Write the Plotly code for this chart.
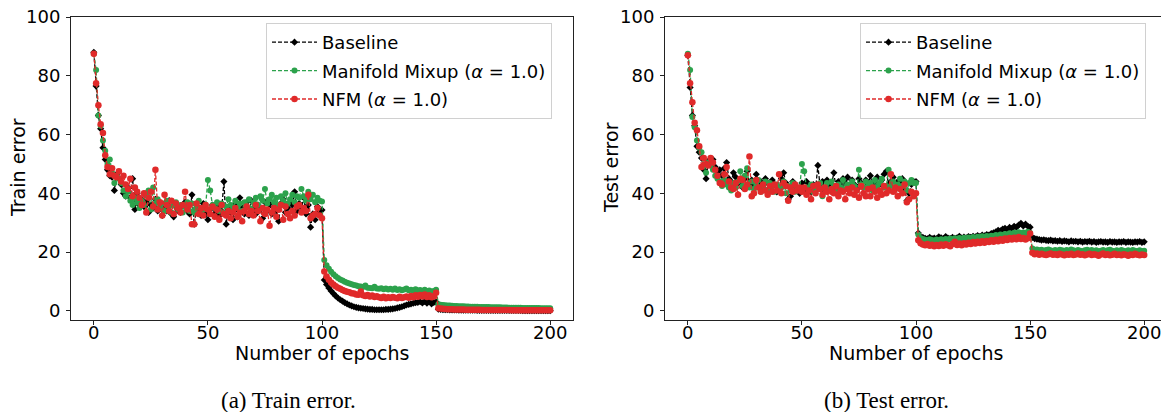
import plotly.graph_objects as go

# ---------------- data ----------------
epochs = list(range(201))

train_baseline_p1 = [
    88.0, 76.5, 66.5, 62.0, 55.5, 51.5, 48.0, 46.0, 45.5, 41.0,
    46.5, 45.0, 43.0, 40.0, 39.0, 42.0, 38.5, 45.0, 34.5, 40.0,
    36.0, 38.0, 35.5, 37.0, 33.5, 36.0, 35.0, 38.0, 34.0, 36.5,
    32.5, 35.0, 34.0, 37.5, 33.0, 32.0, 35.5, 34.0, 33.5, 36.0,
    37.0, 34.0, 33.0, 39.5, 29.5, 34.5, 35.0, 32.5, 36.5, 33.0,
    31.0, 34.5, 36.0, 33.0, 35.5, 32.5, 34.0, 44.0, 29.5, 35.0,
    33.5, 31.0, 36.5, 32.0, 38.5, 35.0, 33.0, 37.0, 32.5, 37.5,
    35.0, 33.0, 36.0, 34.5, 31.5, 37.0, 34.0, 36.5, 33.0, 35.5,
    34.0, 30.5, 36.5, 38.0, 33.5, 35.0, 37.0, 36.0, 40.5, 34.0,
    36.5, 35.0, 38.5, 33.0, 36.0, 28.5, 33.0, 31.0, 35.5, 34.0,
    34.3]
train_baseline_p2 = [
    10.5, 9.0, 7.8, 6.8, 5.9, 5.1, 4.4, 3.8, 3.3, 2.8,
    2.4, 2.0, 1.7, 1.4, 1.2, 1.0, 0.9, 0.8, 0.7, 0.6,
    0.5, 0.5, 0.4, 0.4, 0.4, 0.4, 0.4, 0.5, 0.5, 0.6,
    0.7, 0.8, 1.0, 1.2, 1.4, 1.7, 2.0, 2.2, 2.4, 2.6,
    2.8, 2.9, 3.1, 2.7, 3.2, 2.6, 3.3, 2.4, 2.9, 3.0]
train_baseline_p3 = [
    0.6, 0.5, 0.45, 0.4, 0.38, 0.35, 0.33, 0.3, 0.3, 0.28,
    0.27, 0.25, 0.25, 0.24, 0.22, 0.22, 0.21, 0.2, 0.2, 0.19,
    0.18, 0.18, 0.17, 0.17, 0.16, 0.16, 0.15, 0.15, 0.15, 0.14,
    0.14, 0.13, 0.13, 0.13, 0.12, 0.12, 0.12, 0.11, 0.11, 0.11,
    0.1, 0.1, 0.1, 0.1, 0.09, 0.09, 0.09, 0.09, 0.08, 0.08]

train_mixup_p1 = [
    87.5, 82.0, 66.5, 63.0, 58.0, 54.5, 50.0, 51.5, 47.0, 43.5,
    46.0, 45.0, 43.5, 41.0, 39.0, 40.5, 37.5, 36.0, 38.5, 37.0,
    35.0, 37.5, 36.0, 40.0, 41.0, 34.5, 42.0, 36.5, 38.0, 35.0,
    36.5, 34.0, 37.5, 35.5, 33.5, 36.0, 37.0, 34.5, 36.0, 33.5,
    35.5, 37.0, 34.0, 36.5, 33.5, 35.0, 37.5, 33.0, 34.5, 36.0,
    44.5, 41.0, 36.0, 35.0, 37.0, 34.0, 36.5, 33.5, 35.5, 38.0,
    36.0, 34.5, 37.5, 35.0, 36.5, 34.0, 37.0, 35.5, 38.0, 34.5,
    37.0, 38.5, 36.0, 39.0, 37.5, 41.5, 36.5, 38.0, 39.5, 37.0,
    38.5, 36.0, 39.0, 37.5, 40.0, 36.5, 38.0, 39.5, 37.0, 39.0,
    38.5, 41.5, 39.0, 37.5, 40.5, 38.0, 39.5, 37.0, 38.5, 37.5,
    37.2]
train_mixup_p2 = [
    17.3, 15.5, 14.3, 13.3, 12.5, 11.8, 11.2, 10.7, 10.3, 9.9,
    9.6, 9.3, 9.1, 8.8, 8.6, 8.4, 8.3, 8.1, 8.6, 7.9,
    7.8, 7.7, 8.2, 7.6, 7.5, 7.7, 7.4, 7.6, 7.3, 7.5,
    7.2, 7.6, 7.1, 7.4, 7.0, 7.3, 7.6, 7.0, 7.2, 6.9,
    7.4, 6.9, 7.1, 6.8, 7.2, 6.7, 6.9, 6.6, 6.8, 7.2]
train_mixup_p3 = [
    2.3, 2.1, 2.0, 1.9, 1.85, 1.8, 1.75, 1.7, 1.65, 1.6,
    1.6, 1.55, 1.5, 1.5, 1.45, 1.45, 1.4, 1.4, 1.35, 1.35,
    1.3, 1.3, 1.3, 1.25, 1.25, 1.2, 1.2, 1.2, 1.15, 1.15,
    1.15, 1.1, 1.1, 1.1, 1.05, 1.05, 1.05, 1.0, 1.0, 1.0,
    1.0, 0.95, 0.95, 0.95, 0.95, 0.9, 0.9, 0.9, 0.9, 0.9]

train_nfm_p1 = [
    87.5, 77.5, 70.0, 63.5, 60.5, 53.0, 49.0, 46.5, 48.5, 46.0,
    45.5, 47.5, 44.0, 46.0, 43.0, 41.5, 45.0, 39.0, 42.0, 40.5,
    38.5, 36.0, 40.0, 33.5, 38.5, 40.5, 35.5, 48.0, 34.5, 37.0,
    32.5, 39.5, 36.0, 34.0, 37.5, 33.0, 36.5, 35.0, 33.5, 36.0,
    40.5, 34.5, 36.0, 29.5, 29.5, 36.5, 33.0, 35.0, 32.5, 36.0,
    34.5, 33.0, 35.5, 32.0, 34.5, 31.0, 36.0, 33.0, 32.5, 34.0,
    31.5, 33.5, 35.0, 32.0, 33.5, 30.5, 34.0, 35.5, 33.0, 34.0,
    32.5, 36.0, 34.0, 30.5, 35.0, 33.0, 34.5, 29.0, 33.5, 35.0,
    32.0, 34.5, 36.0, 31.0, 35.5, 33.0, 31.5, 34.0, 32.5, 35.5,
    36.0, 33.5, 35.0, 34.0, 39.5, 31.5, 32.5, 33.0, 35.0, 32.5,
    31.5]
train_nfm_p2 = [
    13.4, 11.7, 10.6, 9.7, 9.0, 8.4, 7.9, 7.5, 7.1, 6.8,
    6.5, 6.3, 6.0, 5.9, 5.6, 5.5, 6.6, 5.3, 5.1, 5.4,
    4.9, 5.2, 4.7, 5.0, 4.6, 4.4, 4.8, 4.3, 4.6, 4.4,
    4.7, 4.5, 4.3, 4.8, 4.4, 4.6, 4.9, 4.5, 5.1, 4.6,
    5.3, 4.8, 5.4, 4.9, 5.6, 4.7, 5.3, 4.6, 5.0, 6.2]
train_nfm_p3 = [
    0.9, 0.8, 0.7, 0.65, 0.6, 0.55, 0.55, 0.5, 0.5, 0.45,
    0.45, 0.45, 0.4, 0.4, 0.4, 0.38, 0.37, 0.36, 0.35, 0.34,
    0.33, 0.33, 0.32, 0.31, 0.3, 0.3, 0.29, 0.29, 0.28, 0.28,
    0.27, 0.27, 0.26, 0.26, 0.25, 0.25, 0.25, 0.24, 0.24, 0.24,
    0.23, 0.23, 0.23, 0.22, 0.22, 0.22, 0.21, 0.21, 0.21, 0.2]

test_baseline_p1 = [
    87.0, 76.0, 66.5, 63.0, 56.0, 54.0, 52.0, 48.0, 45.0, 51.0,
    50.5, 51.5, 49.0, 47.5, 48.0, 46.0, 48.5, 50.5, 45.0, 44.0,
    47.0, 45.5, 43.5, 44.0, 42.0, 45.0, 47.5, 43.0, 44.5, 42.5,
    46.5, 43.0, 44.0, 41.5, 45.0, 43.5, 42.0, 44.5, 43.0, 40.5,
    42.0, 45.0, 47.0, 43.5, 38.0, 39.0, 44.0, 42.5, 41.0, 40.0,
    43.5, 41.0, 44.0, 42.5, 40.5, 43.0, 41.5, 49.5, 42.0, 44.0,
    41.0, 44.5, 42.0, 43.0, 47.0, 41.5, 44.0, 42.5, 45.0, 43.5,
    45.5, 42.0, 44.5, 43.0, 41.5, 45.0, 43.5, 42.0, 44.5, 43.0,
    46.0, 42.5, 44.0, 45.5, 43.0, 44.5, 46.5, 47.5, 43.0, 44.0,
    45.5, 42.0, 44.0, 43.5, 45.0, 41.0, 37.5, 40.0, 43.0, 44.0,
    44.0]
test_baseline_p2 = [
    26.5, 25.2, 25.0, 24.7, 24.5, 25.0, 24.6, 24.8, 24.5, 25.2,
    24.9, 24.6, 25.3, 24.8, 24.6, 25.0, 24.7, 24.9, 25.4, 24.8,
    25.1, 24.9, 25.3, 25.0, 25.4, 25.2, 25.6, 25.3, 25.8, 25.5,
    26.0, 25.8, 26.3, 26.6, 26.9, 27.4, 27.2, 27.8, 28.1, 27.7,
    28.4, 28.0, 28.8, 28.5, 29.2, 29.8, 28.9, 29.5, 28.8, 28.5]
test_baseline_p3 = [
    25.0, 24.6, 24.4, 24.3, 24.1, 24.2, 24.0, 23.9, 24.1, 23.8,
    23.9, 23.7, 23.9, 23.6, 23.8, 23.7, 23.5, 23.8, 23.6, 23.7,
    23.5, 23.7, 23.4, 23.6, 23.5, 23.7, 23.4, 23.6, 23.3, 23.5,
    23.6, 23.4, 23.5, 23.3, 23.6, 23.4, 23.5, 23.3, 23.5, 23.4,
    23.6, 23.3, 23.5, 23.4, 23.3, 23.5, 23.4, 23.6, 23.3, 23.5]

test_mixup_p1 = [
    87.5, 82.0, 66.0, 62.5, 58.0, 55.5, 54.0, 49.5, 47.0, 50.5,
    49.5, 48.0, 46.0, 45.0, 44.0, 42.5, 44.5, 43.0, 42.0, 41.0,
    43.5, 42.0, 44.0, 47.5, 42.5, 46.0, 48.5, 42.0, 44.0, 41.5,
    43.0, 44.5, 40.5, 42.0, 44.0, 41.0, 43.5, 42.5, 40.5, 43.0,
    41.5, 42.0, 44.0, 40.0, 42.5, 41.0, 43.5, 40.5, 42.0, 41.5,
    50.0, 47.5, 42.0, 41.0, 43.0, 40.5, 42.5, 41.5, 43.5, 39.0,
    42.0, 43.5, 41.0, 44.0, 42.5, 40.5, 43.0, 42.0, 44.5, 41.5,
    43.0, 41.5, 44.0, 42.5, 41.0, 48.0, 43.0, 42.0, 44.0, 42.5,
    43.5, 41.0, 44.5, 42.0, 43.5, 45.0, 42.0, 42.5, 48.0, 42.5,
    44.0, 41.5, 43.0, 45.0, 42.5, 44.0, 41.0, 43.5, 44.5, 43.5,
    43.5]
test_mixup_p2 = [
    26.0, 24.8, 24.5, 24.2, 24.0, 24.4, 24.1, 23.9, 24.3, 24.0,
    24.4, 24.1, 24.5, 24.2, 24.6, 24.3, 24.7, 24.4, 24.8, 24.5,
    24.9, 24.6, 25.0, 24.7, 25.1, 24.8, 25.2, 25.0, 25.4, 25.1,
    25.5, 25.2, 25.6, 25.4, 25.8, 25.5, 26.0, 25.7, 26.2, 25.9,
    26.4, 26.1, 26.6, 26.2, 26.8, 26.4, 26.7, 26.3, 26.9, 26.5]
test_mixup_p3 = [
    21.2, 20.8, 20.9, 20.6, 20.8, 20.5, 20.7, 20.9, 20.6, 20.4,
    20.7, 20.5, 20.8, 20.6, 20.3, 20.7, 20.5, 20.9, 20.6, 20.4,
    20.7, 20.5, 20.3, 20.6, 20.8, 20.5, 20.7, 20.4, 20.6, 20.3,
    20.5, 20.7, 20.4, 20.6, 20.8, 20.5, 20.3, 20.6, 20.4, 20.7,
    20.5, 20.3, 20.6, 20.4, 20.7, 20.5, 20.3, 20.6, 20.4, 20.5]

test_nfm_p1 = [
    87.0, 77.5, 71.0, 64.0, 61.5, 56.0, 49.0, 52.0, 50.0, 49.5,
    52.0, 50.5, 48.0, 46.0, 43.5, 43.0, 46.5, 49.0, 44.0, 42.0,
    41.5, 43.5, 39.5, 45.0, 44.5, 41.5, 43.0, 52.5, 39.0, 40.0,
    44.5, 42.0, 40.5, 43.0, 41.0, 39.5, 42.5, 40.5, 43.0, 41.0,
    46.5, 40.0, 43.5, 42.5, 37.5, 42.0, 40.5, 43.0, 41.0, 42.0,
    40.5, 42.0, 39.5, 41.0, 38.0, 42.5, 40.0, 43.0, 41.5, 39.5,
    42.0, 40.5, 38.0, 41.5, 40.0, 42.5, 39.0, 41.0, 40.5, 38.0,
    41.5, 40.0, 42.0, 39.5, 41.0, 38.5, 42.5, 40.0, 39.0, 41.5,
    39.0, 42.0, 40.5, 38.5, 41.0, 39.5, 42.5, 40.0, 41.0, 46.5,
    40.5, 42.0, 39.0, 41.5, 40.0, 43.0, 37.0, 38.0, 40.5, 39.0,
    40.0]
test_nfm_p2 = [
    24.0, 23.0, 22.6, 22.3, 22.8, 22.2, 22.5, 22.0, 22.4, 22.1,
    22.6, 22.2, 22.7, 22.3, 22.0, 22.8, 23.5, 22.4, 22.9, 22.3,
    23.0, 22.6, 23.2, 22.8, 23.4, 22.9, 23.5, 23.1, 23.7, 23.2,
    23.8, 23.4, 24.0, 23.5, 24.2, 23.7, 24.4, 23.9, 24.6, 24.1,
    24.8, 24.3, 24.9, 24.4, 25.1, 24.5, 24.8, 24.3, 24.7, 26.3]
test_nfm_p3 = [
    19.8, 19.3, 19.5, 19.1, 19.4, 19.2, 19.0, 19.3, 19.5, 19.1,
    19.3, 19.0, 19.4, 19.2, 18.9, 19.3, 19.1, 19.4, 19.0, 19.2,
    19.5, 19.1, 19.3, 18.9, 19.2, 19.4, 19.0, 19.3, 19.1, 18.8,
    19.2, 19.5, 19.0, 19.3, 18.9, 19.1, 19.4, 19.0, 19.2, 18.9,
    19.3, 19.1, 18.8, 19.2, 19.0, 19.4, 19.1, 18.9, 19.2, 19.0]

series_names = ["Baseline", "Manifold Mixup (<i>α</i> = 1.0)", "NFM (<i>α</i> = 1.0)"]
x_ticks = [0, 50, 100, 150, 200]
y_ticks = [0, 20, 40, 60, 80, 100]

train_series = [
    train_baseline_p1 + train_baseline_p2 + train_baseline_p3,
    train_mixup_p1 + train_mixup_p2 + train_mixup_p3,
    train_nfm_p1 + train_nfm_p2 + train_nfm_p3,
]
test_series = [
    test_baseline_p1 + test_baseline_p2 + test_baseline_p3,
    test_mixup_p1 + test_mixup_p2 + test_mixup_p3,
    test_nfm_p1 + test_nfm_p2 + test_nfm_p3,
]

# ---------------- styling ----------------
W, H = 1169, 412
OFF = 8  # page body margin offset
colors = ["#000000", "#2ca24c", "#e02a2a"]
symbols = ["diamond", "circle", "circle"]
msizes = [5.5, 6, 6.5]
FONT = "DejaVu Sans"

fig = go.Figure()
for panel, (series, xa, ya, leg) in enumerate([
        (train_series, "x", "y", "legend"),
        (test_series, "x2", "y2", "legend2")]):
    for i, vals in enumerate(series):
        fig.add_trace(go.Scatter(
            x=epochs[:len(vals)], y=vals, xaxis=xa, yaxis=ya,
            mode="lines+markers", name=series_names[i], legend=leg,
            legendgroup=f"p{panel}s{i}",
            line=dict(color=colors[i], width=1.3, dash="4px,2px"),
            marker=dict(symbol=symbols[i], size=msizes[i], color=colors[i],
                        line=dict(width=0)),
            showlegend=True,
        ))

def px_x(p):
    return (p - OFF) / W

def px_y(p):
    return 1 - (p - OFF) / H

axis_common = dict(
    showline=True, mirror=True, linecolor="#222222", linewidth=1,
    ticks="outside", ticklen=4, tickwidth=1, tickcolor="#222222",
    showgrid=False, zeroline=False, automargin=False,
    ticklabeloverflow="allow",
    tickfont=dict(family=FONT, size=18, color="#000000"),
)

left_dom = [px_x(71), px_x(573)]
right_dom = [px_x(665), px_x(1167)]
y_dom = [px_y(320), px_y(17)]

leg_common = dict(xanchor="left", yanchor="top",
                  bgcolor="rgba(255,255,255,0.85)", bordercolor="#d0d0d0", borderwidth=1,
                  font=dict(family=FONT, size=18, color="#000000"), itemwidth=45,
                  tracegroupgap=2)

fig.update_layout(
    template="none",
    width=W, height=H,
    margin=dict(l=0, r=0, t=0, b=0, autoexpand=False),
    paper_bgcolor="white", plot_bgcolor="white",
    font=dict(family=FONT, color="#000000"),
    xaxis=dict(domain=left_dom, range=[-10, 210], tickvals=x_ticks, anchor="y",
               ticklabelstandoff=-8, **axis_common),
    yaxis=dict(domain=y_dom, range=[-3.1, 100], tickvals=y_ticks, anchor="x",
               ticklabelstandoff=2, **axis_common),
    xaxis2=dict(domain=right_dom, range=[-10, 210], tickvals=x_ticks, anchor="y2",
                ticklabelstandoff=-8, **axis_common),
    yaxis2=dict(domain=y_dom, range=[-3.1, 100], tickvals=y_ticks, anchor="x2",
                ticklabelstandoff=2, **axis_common),
    legend=dict(x=px_x(266), y=px_y(23), **leg_common),
    legend2=dict(x=px_x(860), y=px_y(23), **leg_common),
)

annotations = [
    dict(text="Number of epochs", x=px_x(322), y=px_y(353)),
    dict(text="Number of epochs", x=px_x(916), y=px_y(353)),
    dict(text="Train error", x=px_x(18), y=px_y(168), textangle=-90),
    dict(text="Test error", x=px_x(611), y=px_y(168), textangle=-90),
]
for a in annotations:
    fig.add_annotation(xref="paper", yref="paper", showarrow=False,
                       xanchor="center", yanchor="middle",
                       font=dict(family=FONT, size=19, color="#000000"), **a)

for txt, cx in [("(a) Train error.", 288), ("(b) Test error.", 886)]:
    fig.add_annotation(text=txt, xref="paper", yref="paper", x=px_x(cx), y=px_y(400),
                       showarrow=False, xanchor="center", yanchor="middle",
                       font=dict(family="Liberation Serif", size=23, color="#000000"))

fig.write_html("out.html")
